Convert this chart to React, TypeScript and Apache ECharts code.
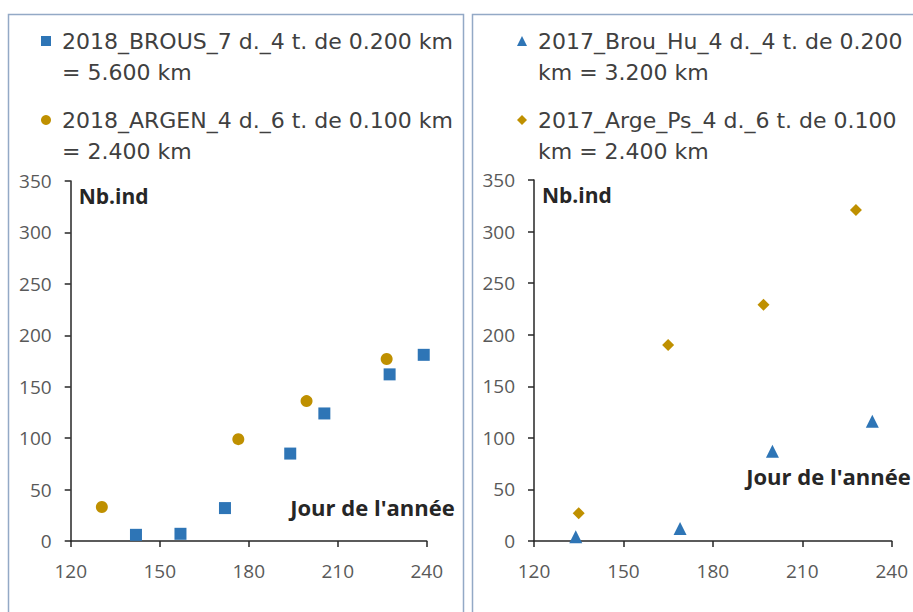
import React, { useEffect, useRef } from "react";
import * as echarts from "echarts";

// ---- data ----
const leftNames = [
  "2018_BROUS_7 d._4 t. de 0.200 km = 5.600 km",
  "2018_ARGEN_4 d._6 t. de 0.100 km = 2.400 km",
];
const rightNames = [
  "2017_Brou_Hu_4 d._4 t. de 0.200 km = 3.200 km",
  "2017_Arge_Ps_4 d._6 t. de 0.100 km = 2.400 km",
];
const brous2018Days = [142, 157, 172, 194, 205.5, 227.5, 239];
const brous2018Vals = [6, 7, 32, 85, 124, 162, 181];
const argen2018Days = [130.5, 176.5, 199.5, 226.5];
const argen2018Vals = [33, 99, 136, 177];
const brouHu2017Days = [134, 169, 200, 233.5];
const brouHu2017Vals = [4, 12, 87, 116];
const argePs2017Days = [135, 165, 197, 228];
const argePs2017Vals = [27, 190, 229, 321];
const xTicks = [120, 150, 180, 210, 240];
const yTicks = [0, 50, 100, 150, 200, 250, 300, 350];
const yAxisTitle = "Nb.ind";
const xAxisTitle = "Jour de l'année";

const BLUE = "#2E75B6";
const GOLD = "#BF9000";
const FONT = "Open Sans";
const LEGEND_FONT = "DejaVu Sans";
const LH = 31;

const pairs = (xs: number[], ys: number[]) => xs.map((x, i) => [x, ys[i]]);

export default function App() {
  const ref = useRef<HTMLDivElement>(null);
  useEffect(() => {
    if (!ref.current) return;
    const chart = echarts.init(ref.current, undefined, { renderer: "svg" });

    const mkX = (gridIndex: number, nameGap: number, namePadBottom: number) => ({
      type: "value",
      gridIndex,
      min: xTicks[0],
      max: xTicks[xTicks.length - 1],
      interval: 30,
      name: xAxisTitle,
      nameLocation: "end",
      nameGap,
      nameTextStyle: {
        fontFamily: FONT,
        fontWeight: "bold",
        fontSize: 22,
        color: "#262626",
        align: "right",
        verticalAlign: "bottom",
        padding: [0, 0, namePadBottom, 0],
      },
      axisLine: { show: true, lineStyle: { color: "#262626", width: 1.5 } },
      axisTick: { show: true, length: 6, lineStyle: { color: "#262626", width: 1.5 } },
      axisLabel: { color: "#595959", fontFamily: FONT, fontSize: 19, margin: 20 },
      splitLine: { show: false },
    });
    const mkY = (gridIndex: number) => ({
      type: "value",
      gridIndex,
      min: yTicks[0],
      max: yTicks[yTicks.length - 1],
      interval: 50,
      name: yAxisTitle,
      nameLocation: "end",
      nameGap: -4,
      nameTextStyle: {
        fontFamily: FONT,
        fontWeight: "bold",
        fontSize: 21,
        color: "#262626",
        align: "left",
        verticalAlign: "top",
        padding: [0, 0, 0, 8],
      },
      axisLine: { show: true, lineStyle: { color: "#262626", width: 1.5 } },
      axisTick: { show: true, length: 6, lineStyle: { color: "#262626", width: 1.5 } },
      axisLabel: { color: "#595959", fontFamily: FONT, fontSize: 19, margin: 19 },
      splitLine: { show: false },
    });

    const legendText = {
      fontFamily: LEGEND_FONT,
      fontSize: 22,
      color: "#404040",
      lineHeight: LH,
      padding: [0, 0, 0, 6],
    };
    const legendBase = {
      orient: "vertical",
      top: -5.5,
      padding: 0,
      itemGap: -14,
      itemWidth: 10,
      itemHeight: 10,
      textStyle: legendText,
    };

    chart.setOption({
      animation: false,
      backgroundColor: "#ffffff",
      graphic: [
        {
          type: "rect",
          shape: { x: 8.5, y: 14.5, width: 455, height: 640 },
          style: { fill: "none", stroke: "#93A9C6", lineWidth: 1.5 },
          silent: true,
        },
        {
          type: "rect",
          shape: { x: 472.5, y: 14.5, width: 500, height: 640 },
          style: { fill: "none", stroke: "#93A9C6", lineWidth: 1.5 },
          silent: true,
        },
      ],
      legend: [
        {
          ...legendBase,
          left: 41,
          data: leftNames,
          formatter: (n: string) => "\n" + n.replace(" = ", "\n= "),
        },
        {
          ...legendBase,
          left: 517,
          data: rightNames,
          formatter: (n: string) => "\n" + n.replace(" km = ", "\nkm = "),
        },
      ],
      grid: [
        { left: 70.7, right: 486.3, top: 181, bottom: 71, outerBoundsMode: "none", containLabel: false },
        { left: 534, right: 21.3, top: 180, bottom: 71, outerBoundsMode: "none", containLabel: false },
      ],
      xAxis: [mkX(0, 28, 23), mkX(1, 19, 54)],
      yAxis: [mkY(0), mkY(1)],
      series: [
        {
          name: leftNames[0],
          type: "scatter",
          xAxisIndex: 0,
          yAxisIndex: 0,
          symbol: "rect",
          symbolSize: 12,
          itemStyle: { color: BLUE, opacity: 1 },
          data: pairs(brous2018Days, brous2018Vals),
        },
        {
          name: leftNames[1],
          type: "scatter",
          xAxisIndex: 0,
          yAxisIndex: 0,
          symbol: "circle",
          symbolSize: 12,
          itemStyle: { color: GOLD, opacity: 1 },
          data: pairs(argen2018Days, argen2018Vals),
        },
        {
          name: rightNames[0],
          type: "scatter",
          xAxisIndex: 1,
          yAxisIndex: 1,
          symbol: "triangle",
          symbolSize: 13,
          itemStyle: { color: BLUE, opacity: 1 },
          data: pairs(brouHu2017Days, brouHu2017Vals),
        },
        {
          name: rightNames[1],
          type: "scatter",
          xAxisIndex: 1,
          yAxisIndex: 1,
          symbol: "diamond",
          symbolSize: 12,
          itemStyle: { color: GOLD, opacity: 1 },
          data: pairs(argePs2017Days, argePs2017Vals),
        },
      ],
    });
    return () => chart.dispose();
  }, []);
  return (
    <div
      ref={ref}
      style={{ position: "fixed", left: 0, top: 0, width: 913, height: 612 }}
    />
  );
}
